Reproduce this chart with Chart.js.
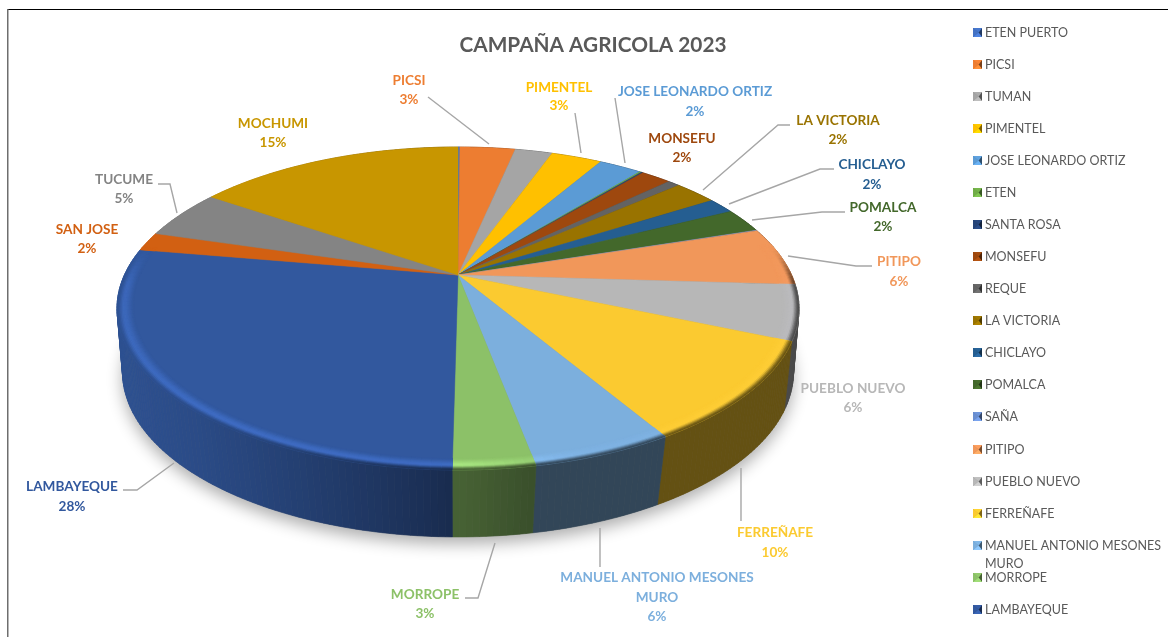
<!DOCTYPE html>
<html><head><meta charset="utf-8">
<script src="https://cdn.jsdelivr.net/npm/chart.js@4"></script>
<style>html,body{margin:0;padding:0;background:#fff}canvas{display:block}</style>
</head><body><canvas id="c" width="1168" height="637"></canvas>
<script>
const categories=["ETEN PUERTO","PICSI","TUMAN","PIMENTEL","JOSE LEONARDO ORTIZ","ETEN","SANTA ROSA","MONSEFU","REQUE","LA VICTORIA","CHICLAYO","POMALCA","SAÑA","PITIPO","PUEBLO NUEVO","FERREÑAFE","MANUEL ANTONIO MESONES MURO","MORROPE","LAMBAYEQUE","SAN JOSE","TUCUME","MOCHUMI"];
const shares=[0.11,3.2,2.16,2.93,2.49,0.1,0.1,1.75,0.7,2.46,1.57,2.44,0.05,5.9,5.5,10.0,5.55,3.2,27.48,1.87,4.96,15.46];
const colors=["#4472C4","#ED7D31","#A5A5A5","#FFC000","#5B9BD5","#70AD47","#264478","#9E480E","#636363","#997300","#255E91","#43682B","#698ED0","#F1975A","#B7B7B7","#FBCA30","#7CAFDD","#8CC168","#32589E","#D26012","#848484","#C89600"];
const legendCount=19;
const legendRows=[32,64,96,128,160,192,224,256,288,320,352,384,416,449,481,513,545,577,609];
const labelled=[
 {i:1,lines:["PICSI","3%"],x:409,y:[80,99],lead:[[489,144],[428,97]]},
 {i:3,lines:["PIMENTEL","3%"],x:559,y:[87,105],lead:[[581,153],[575,113]]},
 {i:4,lines:["JOSE LEONARDO ORTIZ","2%"],x:695,y:[91,111],lead:[[625,163],[615,98]]},
 {i:7,lines:["MONSEFU","2%"],x:682,y:[138,157]},
 {i:9,lines:["LA VICTORIA","2%"],x:838,y:[120,139],lead:[[703,190],[778,125],[790,125]]},
 {i:10,lines:["CHICLAYO","2%"],x:872,y:[164,184],lead:[[729,204],[820,169],[834,169]]},
 {i:11,lines:["POMALCA","2%"],x:883,y:[207,226],lead:[[752,220],[822,212],[845,212]]},
 {i:13,lines:["PITIPO","6%"],x:899,y:[261,281],lead:[[788,256],[856,266],[872,266]]},
 {i:14,lines:["PUEBLO NUEVO","6%"],x:853,y:[388,407]},
 {i:15,lines:["FERREÑAFE","10%"],x:775,y:[532,552],lead:[[741,468],[741,521]]},
 {i:16,lines:["MANUEL ANTONIO MESONES","MURO","6%"],x:657,y:[577,597,616],lead:[[600,528],[600,567]]},
 {i:17,lines:["MORROPE","3%"],x:425,y:[594,613],lead:[[495,543],[478,598],[465,598]]},
 {i:18,lines:["LAMBAYEQUE","28%"],x:72,y:[486,506],lead:[[174,463],[137,490],[123,490]]},
 {i:19,lines:["SAN JOSE","2%"],x:87,y:[229,248]},
 {i:20,lines:["TUCUME","5%"],x:124,y:[179,198],lead:[[177,213],[170,184],[158,184]]},
 {i:21,lines:["MOCHUMI","15%"],x:273,y:[123,142]}
];
const FONT='Lato, "Open Sans", sans-serif';
// perspective disc of the pie's top and bottom
const TOP={x0:458,k:333.6,c:-0.2074,a:97.5,b:275};
const BOT={x0:458,k:330,c:-0.18,a:97.9,b:342.4};
function proj(d,th,r){const u=r*Math.sin(th),v=-r*Math.cos(th),w=1+d.c*v;return [d.x0+d.k*u/w,(d.a*v+d.b)/w];}
function rgb(h){return [parseInt(h.slice(1,3),16),parseInt(h.slice(3,5),16),parseInt(h.slice(5,7),16)];}
function css(c){return `rgb(${c.map(v=>Math.max(0,Math.min(255,Math.round(v)))).join(',')})`;}
function mul(c,f){return c.map(v=>v*f);}
function mix(a,b,t){return a.map((v,i)=>v+(b[i]-v)*t);}
const WF=[[118,.92],[200,.85],[300,.72],[400,.58],[450,.5],[465,.5],[540,.4],[800,.4]];
function wallF(x){if(x<=WF[0][0])return WF[0][1];for(let i=1;i<WF.length;i++){if(x<=WF[i][0]){const t=(x-WF[i-1][0])/(WF[i][0]-WF[i-1][0]);return WF[i-1][1]+(WF[i][1]-WF[i-1][1])*t;}}return .4;}
function sm(a,b,x){const t=Math.max(0,Math.min(1,(x-a)/(b-a)));return t*t*(3-2*t);}
function quad(ctx,p,col){ctx.fillStyle=col;ctx.strokeStyle=col;ctx.lineWidth=.6;ctx.beginPath();ctx.moveTo(p[0][0],p[0][1]);for(let i=1;i<4;i++)ctx.lineTo(p[i][0],p[i][1]);ctx.closePath();ctx.fill();ctx.stroke();}
function norm(a){return ((a%(2*Math.PI))+2*Math.PI)%(2*Math.PI);}

const Arc=Chart.ArcElement;
Arc.prototype.draw=function(ctx){
 const {startAngle,endAngle}=this.getProps(['startAngle','endAngle']);
 const s=startAngle+Math.PI/2,e=endAngle+Math.PI/2;
 const col=this.options.backgroundColor,base=rgb(col);
 const n=Math.max(2,Math.ceil((e-s)/(Math.PI/360)));
 ctx.save();
 ctx.fillStyle=col;ctx.strokeStyle=col;ctx.lineWidth=.5;ctx.lineJoin='round';
 ctx.beginPath();
 const ap=proj(TOP,0,0);ctx.moveTo(ap[0],ap[1]);
 for(let i=0;i<=n;i++){const p=proj(TOP,s+(e-s)*i/n,1);ctx.lineTo(p[0],p[1]);}
 ctx.closePath();ctx.fill();ctx.stroke();
 // rounded rim: face colour melts into the side wall along the front
 const steps=Math.max(1,Math.ceil((e-s)/(Math.PI/120))),rings=12,r0=.952;
 for(let j=0;j<steps;j++){
  const t1=s+(e-s)*j/steps,t2=s+(e-s)*(j+1)/steps,mid=(t1+t2)/2;
  const vm=-Math.cos(mid),w=sm(-.2,.1,vm);
  if(w<=0)continue;
  const deg=norm(mid)*180/Math.PI;
  const hi=deg>300?1.12:1+.2*sm(160,185,deg)-.06*sm(215,270,deg);
  const hiC=mul(base,hi).map((v,i)=>v+(i===2?6:3));
  for(let q=0;q<rings;q++){
   const a=r0+(1-r0)*q/rings,b=r0+(1-r0)*(q+1)/rings,t=(q+.5)/rings;
   const pm=proj(TOP,mid,b);
   const wc=mul(base,wallF(pm[0]));
   let c=t<.6?mix(base,hiC,sm(0,.6,t)):mix(hiC,wc,sm(.6,1,t));
   c=mix(base,c,w);
   quad(ctx,[proj(TOP,t1,a),proj(TOP,t2,a),proj(TOP,t2,b),proj(TOP,t1,b)],css(c));
  }
 }
 ctx.restore();
};

const pie3d={id:'pie3d',
 beforeDatasetsDraw(chart){
  const ctx=chart.ctx,arcs=chart.getDatasetMeta(0).data;
  ctx.save();
  // soft cast shadow
  ctx.save();
  ctx.shadowColor='rgba(0,0,0,.32)';ctx.shadowBlur=16;ctx.shadowOffsetY=7;ctx.fillStyle='#777';
  ctx.beginPath();
  for(let i=0;i<=240;i++){const p=proj(BOT,i/240*2*Math.PI,1);i?ctx.lineTo(p[0],p[1]):ctx.moveTo(p[0],p[1]);}
  ctx.closePath();ctx.fill();ctx.restore();
  // side wall, slice by slice
  arcs.forEach(a=>{
   const s=a.startAngle+Math.PI/2,e=a.endAngle+Math.PI/2,base=rgb(a.options.backgroundColor);
   const n=Math.max(1,Math.ceil((e-s)/(Math.PI/180)));
   for(let j=0;j<n;j++){
    const t1=s+(e-s)*j/n,t2=s+(e-s)*(j+1)/n;
    const A=proj(TOP,t1,1),B=proj(TOP,t2,1),C=proj(BOT,t2,1),D=proj(BOT,t1,1);
    quad(ctx,[A,B,C,D],css(mul(base,wallF((A[0]+C[0])/2))));
   }
  });
  ctx.restore();
 },
 afterDraw(chart){
  const ctx=chart.ctx;
  ctx.save();
  // frame edges
  ctx.fillStyle='#000';ctx.fillRect(7,9,1161,1);
  ctx.fillStyle='#6e6e6e';ctx.fillRect(7,9,1.5,628);
  // leader lines
  ctx.strokeStyle='#A6A6A6';ctx.lineWidth=1.4;ctx.lineJoin='miter';
  labelled.forEach(l=>{if(!l.lead)return;ctx.beginPath();l.lead.forEach((p,i)=>i?ctx.lineTo(p[0],p[1]):ctx.moveTo(p[0],p[1]));ctx.stroke();});
  // data labels
  ctx.textAlign='center';ctx.textBaseline='middle';ctx.font='bold 13.6px '+FONT;
  labelled.forEach(l=>{ctx.fillStyle=colors[l.i];l.lines.forEach((t,k)=>ctx.fillText(t,l.x,l.y[k]+1));});
  // legend
  ctx.textAlign='left';ctx.font='12.5px '+FONT;
  categories.slice(0,legendCount).forEach((name,i)=>{
   const y=legendRows[i],x=973,sz=9,t=y-4,c=rgb(colors[i]),cx=x+sz*.62,cy=t+sz/2;
   ctx.fillStyle=css(mul(c,.8));ctx.fillRect(x,t,sz,sz);
   const tri=(p,col)=>{ctx.fillStyle=col;ctx.beginPath();ctx.moveTo(p[0],p[1]);ctx.lineTo(p[2],p[3]);ctx.lineTo(cx,cy);ctx.closePath();ctx.fill();};
   tri([x,t,x,t+sz],css(c));
   tri([x+sz,t,x+sz,t+sz],css(mul(c,.5)));
   tri([x,t,x+sz,t],css(mul(c,1.05)));
   tri([x,t+sz,x+sz,t+sz],css(mul(c,1.15)));
   ctx.fillStyle='#595959';
   const ty=y+.5;
   if(name.length>24){const w=name.split(' ');ctx.fillText(w.slice(0,3).join(' '),985,ty);ctx.fillText(w.slice(3).join(' '),985,ty+18);}
   else ctx.fillText(name,985,ty);
  });
  ctx.restore();
 }
};

new Chart(document.getElementById('c'),{
 type:'pie',
 data:{labels:categories,datasets:[{data:shares,backgroundColor:colors,borderWidth:0}]},
 options:{responsive:false,animation:false,
  layout:{padding:{left:18}},
  plugins:{legend:{display:false},tooltip:{enabled:false},
   title:{display:true,text:'CAMPAÑA AGRICOLA 2023',fullSize:false,color:'#595959',
    font:{family:FONT,size:20.8,weight:'bold'},padding:{top:33,bottom:4}}}
 },
 plugins:[pie3d]
});
</script></body></html>
